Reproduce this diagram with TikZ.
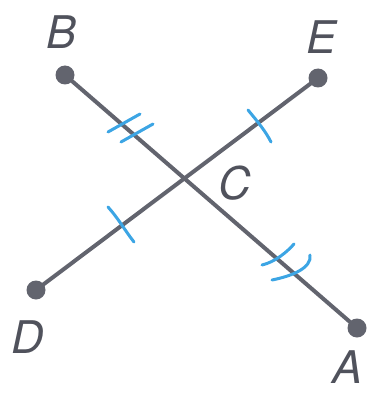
\documentclass[tikz,border=0pt]{standalone}
\usepackage{fontspec}
\setmainfont{TeX Gyre Heros}
\begin{document}
\begin{tikzpicture}[x=1pt,y=-1pt,
  seg/.style={line width=4pt, color={rgb,255:red,98;green,100;blue,110}},
  dot/.style={circle, fill={rgb,255:red,98;green,100;blue,110}, inner sep=0pt, minimum size=19pt},
  tick/.style={draw={rgb,255:red,60;green,165;blue,228}, line width=3pt, line cap=round},
  lab/.style={font=\fontsize{45}{45}\selectfont\itshape, text={rgb,255:red,80;green,82;blue,92}}]
\useasboundingbox (0,0) rectangle (369,393);
\node[dot] (B) at (65,75) {};
\node[dot] (E) at (318,78) {};
\node[dot] (D) at (36,290) {};
\node[dot] (A) at (357,328) {};
\coordinate (C) at (183,180);
\draw[seg] (B.center) -- (A.center);
\draw[seg] (D.center) -- (E.center);
\node[lab] (lB) at (62,32) {B};
\node[lab] (lE) at (322,37) {E};
\node[lab] (lC) at (235,183) {C};
\node[lab] (lD) at (28,337) {D};
\node[lab] (lA) at (348,367) {A};
% ticks
\draw[tick] (108,132) -- (140,114);
\draw[tick] (121,142) -- (153,124);
\draw[tick] (248,110) .. controls (258,122) and (266,132) .. (271,142);
\draw[tick] (108,207) .. controls (118,218) and (126,232) .. (134,242);
\draw[tick] (262,265) .. controls (275,262) and (287,252) .. (294,244);
\draw[tick] (272,280) .. controls (292,276) and (312,268) .. (310,255);
\end{tikzpicture}
\end{document}
